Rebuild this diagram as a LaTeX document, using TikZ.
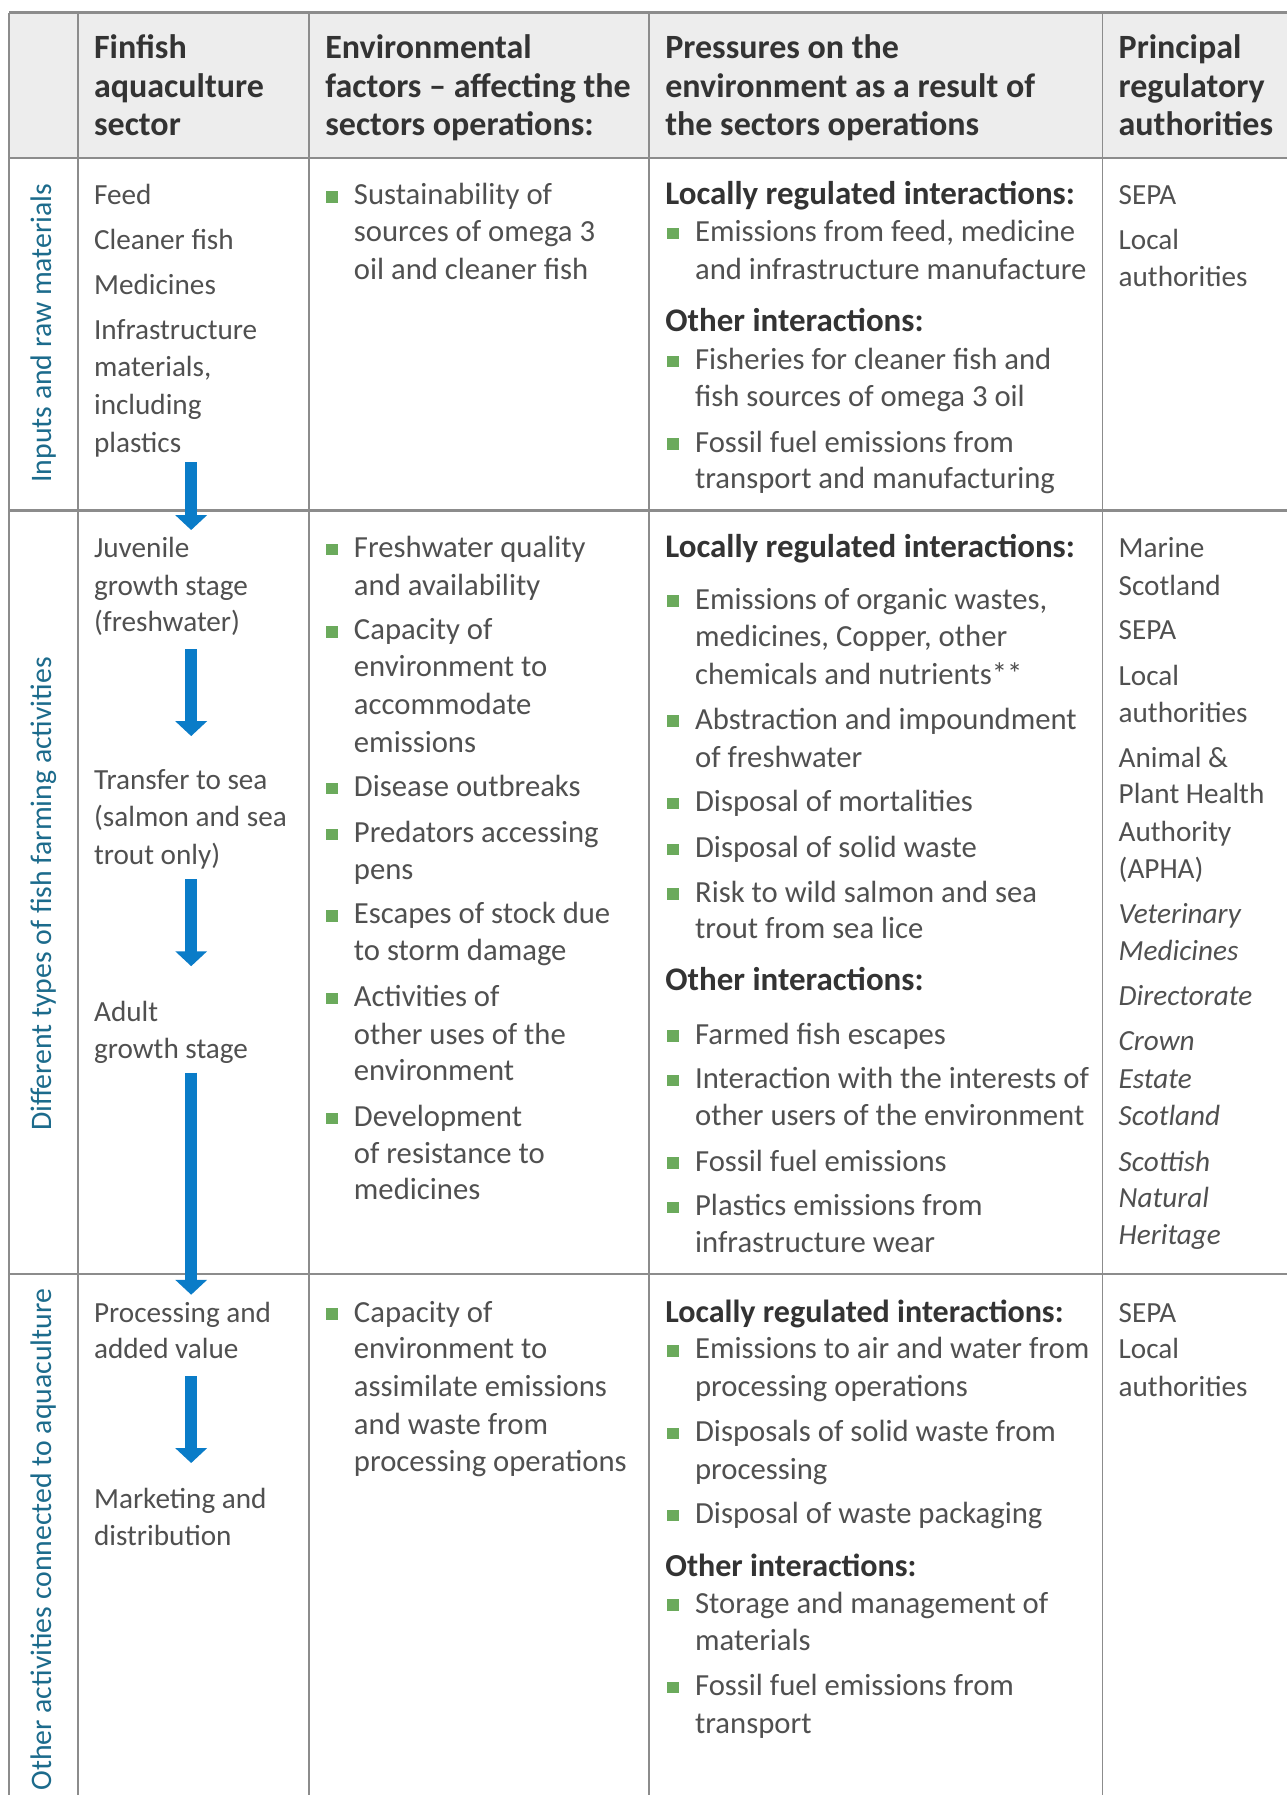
\documentclass[tikz,border=0pt]{standalone}
\usepackage{fontspec}
\setmainfont{Carlito}
\usetikzlibrary{arrows.meta}
\definecolor{txt}{HTML}{505050}
\definecolor{hdr}{HTML}{333333}
\definecolor{lbl}{HTML}{1C6B8C}
\definecolor{arr}{HTML}{0A7CC8}
\definecolor{bulc}{HTML}{6BAA5C}
\definecolor{gridc}{HTML}{8C8C8C}
\definecolor{hfill}{HTML}{EDEDED}
\newcommand\cellrows[4]{%
  \foreach \yy/\ttx [count=\i] in {#4} {\node[#3] (#1\i) at (#2,\yy+9) {\ttx};}}
\newcommand\cellbullets[3]{%
  \foreach \yy [count=\i] in {#3} {\node[bul] (#1\i) at (#2,\yy+2) {};}}
\begin{document}
\begin{tikzpicture}[x=1pt,y=-1pt,
  body/.style={anchor=base west, inner sep=0pt, text=txt, font=\fontsize{25.5}{30}\selectfont},
  wide/.style={body, font=\fontsize{26.8}{30}\selectfont},
  ital/.style={body, font=\itshape\fontsize{25.5}{30}\selectfont},
  hd/.style={body, text=hdr, font=\bfseries\fontsize{28.8}{32}\selectfont},
  hdsmall/.style={body, text=hdr, font=\bfseries\fontsize{28}{32}\selectfont},
  head/.style={body, text=hdr, font=\bfseries\fontsize{29.7}{34}\selectfont},
  rowlbl/.style={rotate=90, inner sep=0pt, text=lbl, font=\fontsize{26}{30}\selectfont},
  bul/.style={fill=bulc, minimum size=10pt, inner sep=0pt},
  vline/.style={draw=gridc, line width=1.3pt},
  hline/.style={draw=gridc, line width=2pt},
  flow/.style={draw=arr, line width=11pt, -{Triangle[width=27pt,length=13pt]}}]
\useasboundingbox[fill=white] (0,0) rectangle (1124,1568);
% header background
\fill[hfill] (8,11) rectangle (1124,138);
% grid
\draw[hline] (8,11) -- (1124,11);
\foreach \yy in {138,446,1113} {\draw[hline] (8,\yy) -- (1124,\yy);}
\foreach \xx in {8,68,270,567,963} {\draw[vline] (\xx,11) -- (\xx,1568);}
% header texts
\cellrows{ha}{82}{head}{42/Finfish, 76/aquaculture, 109/sector}
\cellrows{hb}{284}{head}{42/Environmental, 76/factors -- affecting the, 109/sectors operations:}
\cellrows{hc}{581}{head}{42/Pressures on the, 76/environment as a result of, 109/the sectors operations}
\cellrows{hd}{977}{head}{42/Principal, 76/regulatory, 109/authorities}
% row labels
\node[rowlbl] (lab1) at (38,291) {Inputs and raw materials};
\node[rowlbl] (lab2) at (38,781) {Different types of fish farming activities};
\node[rowlbl] (lab3) at (38,1345) {Other activities connected to aquaculture};
% row 1
\cellrows{ra}{82}{body}{170/Feed, 209/Cleaner fish, 248/Medicines, 288/Infrastructure, 320/{materials,}, 353/including, 386/plastics}
\cellbullets{rbb}{290}{170}
\cellrows{rb}{309}{wide}{170/Sustainability of, 202/sources of omega 3, 235/oil and cleaner fish}
\cellrows{rch}{581}{hd}{170/Locally regulated interactions:, 281/Other interactions:}
\cellbullets{rcb}{588}{202,314,386}
\cellrows{rc}{607}{wide}{202/{Emissions from feed, medicine}, 235/and infrastructure manufacture, 314/Fisheries for cleaner fish and, 346/fish sources of omega 3 oil, 386/Fossil fuel emissions from, 418/transport and manufacturing}
\cellrows{rd}{977}{body}{170/SEPA, 209/Local, 241/authorities}
% row 2
\cellrows{sa}{82}{body}{478/Juvenile, 511/growth stage, 543/(freshwater), 681/Transfer to sea, 713/(salmon and sea, 746/trout only), 883/Adult, 916/growth stage}
\cellbullets{sbb}{290}{478,550,687,727,798,870,975}
\cellrows{sb}{309}{wide}{478/Freshwater quality, 511/and availability, 550/Capacity of, 582/environment to, 615/accommodate, 648/emissions, 687/Disease outbreaks, 727/Predators accessing, 759/pens, 798/Escapes of stock due, 830/to storm damage, 870/Activities of, 903/other uses of the, 935/environment, 975/Development, 1007/of resistance to, 1039/medicines}
\cellrows{sch}{581}{hd}{478/Locally regulated interactions:, 856/Other interactions:}
\cellbullets{scb}{588}{523,628,700,740,779,903,942,1014,1053}
\cellrows{sc}{607}{wide}{523/{Emissions of organic wastes,}, 556/{medicines, Copper, other}, 589/chemicals and nutrients**, 628/Abstraction and impoundment, 661/of freshwater, 700/Disposal of mortalities, 740/Disposal of solid waste, 779/Risk to wild salmon and sea, 811/trout from sea lice, 903/Farmed fish escapes, 942/Interaction with the interests of, 974/other users of the environment, 1014/Fossil fuel emissions, 1053/Plastics emissions from, 1085/infrastructure wear}
\cellrows{sd}{977}{body}{478/Marine, 511/Scotland, 550/SEPA, 590/Local, 622/authorities, 661/Animal \&, 693/Plant Health, 726/Authority, 758/(APHA)}
\cellrows{se}{977}{ital}{798/Veterinary, 830/Medicines, 869/Directorate, 909/Crown, 942/Estate, 974/Scotland, 1014/Scottish, 1046/Natural, 1078/Heritage}
% row 3
\cellrows{ta}{82}{body}{1146/Processing and, 1178/added value, 1309/Marketing and, 1341/distribution}
\cellbullets{tbb}{290}{1146}
\cellrows{tb}{309}{wide}{1146/Capacity of, 1178/environment to, 1211/assimilate emissions, 1244/and waste from, 1276/processing operations}
\cellrows{tch}{581}{hdsmall}{1146/Locally regulated interactions:, 1368/Other interactions:}
\cellbullets{tcb}{588}{1178,1250,1322,1400,1472}
\cellrows{tc}{607}{wide}{1178/Emissions to air and water from, 1211/processing operations, 1250/Disposals of solid waste from, 1283/processing, 1322/Disposal of waste packaging, 1400/Storage and management of, 1433/materials, 1472/Fossil fuel emissions from, 1505/transport}
\cellrows{td}{977}{body}{1146/SEPA, 1178/Local, 1211/authorities}
% arrows
\coordinate (a1s) at (167,404); \coordinate (a1e) at (167,463);
\coordinate (a2s) at (167,567); \coordinate (a2e) at (167,643);
\coordinate (a3s) at (167,768); \coordinate (a3e) at (167,844);
\coordinate (a4s) at (167,937); \coordinate (a4e) at (167,1131);
\coordinate (a5s) at (167,1202); \coordinate (a5e) at (167,1278);
\draw[flow] (a1s) -- (a1e);
\draw[flow] (a2s) -- (a2e);
\draw[flow] (a3s) -- (a3e);
\draw[flow] (a4s) -- (a4e);
\draw[flow] (a5s) -- (a5e);
\end{tikzpicture}
\end{document}
